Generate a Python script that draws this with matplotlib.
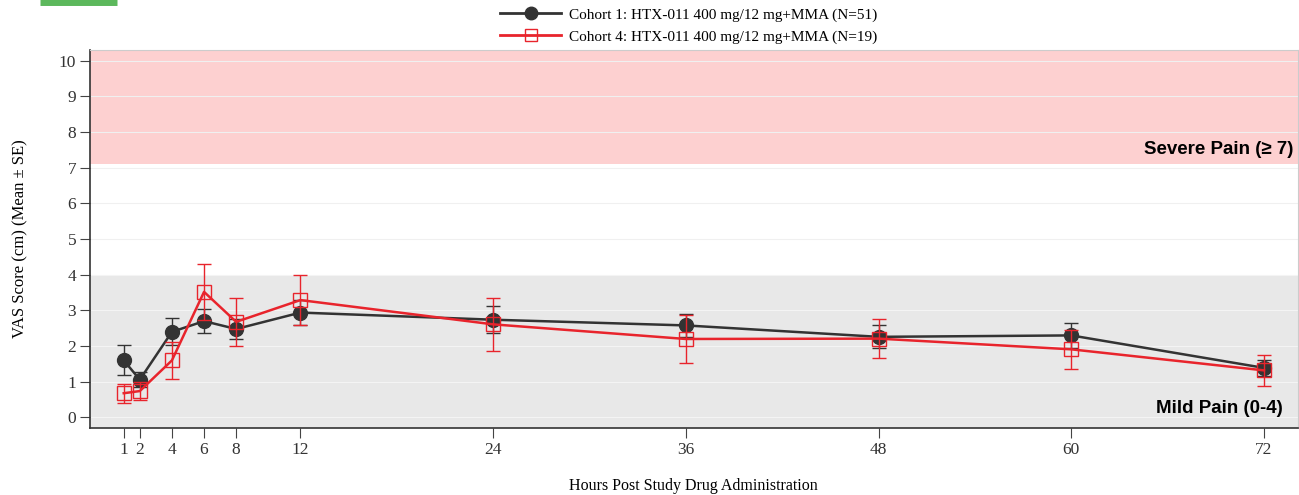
import matplotlib
matplotlib.use("Agg")
import matplotlib.pyplot as plt
from matplotlib.lines import Line2D

hours = [1, 2, 4, 6, 8, 12, 24, 36, 48, 60, 72]
cohort1_mean = [1.60, 1.06, 2.40, 2.70, 2.48, 2.94, 2.74, 2.58, 2.26, 2.30, 1.39]
cohort1_se = [0.42, 0.21, 0.38, 0.34, 0.28, 0.36, 0.38, 0.33, 0.32, 0.35, 0.23]
cohort4_mean = [0.68, 0.74, 1.60, 3.52, 2.68, 3.29, 2.61, 2.20, 2.21, 1.91, 1.32]
cohort4_se = [0.27, 0.26, 0.52, 0.78, 0.68, 0.71, 0.75, 0.66, 0.54, 0.54, 0.44]
labels = ["Cohort 1: HTX-011 400 mg/12 mg+MMA (N=51)",
          "Cohort 4: HTX-011 400 mg/12 mg+MMA (N=19)"]

serif = "Liberation Serif"

fig = plt.figure(figsize=(12.99, 4.95), dpi=100)
ax = fig.add_axes([0.0693, 0.135, 0.9297, 0.764])

ax.set_xlim(-1.1, 74.1)
ax.set_ylim(-0.3, 10.3)

# pain bands
ax.axhspan(7.1, 10.3, color="#fdd0d0", zorder=0, lw=0)
ax.axhspan(-0.3, 4.0, color="#e8e8e8", zorder=0, lw=0)
for y in range(0, 11):
    ax.axhline(y, color="#f0f0f0" if y > 4 else "#f4f4f4", lw=0.8, zorder=0.5)

ax.errorbar(hours, cohort1_mean, yerr=cohort1_se, color="#333333", lw=1.8,
            marker="o", ms=10, mfc="#333333", mec="#333333",
            capsize=5, elinewidth=1.0, capthick=1.0, zorder=3)
ax.errorbar(hours, cohort4_mean, yerr=cohort4_se, color="#e8242c", lw=1.8,
            marker="s", ms=10, mfc="none", mec="#e8242c", mew=1.0,
            capsize=5, elinewidth=1.0, capthick=1.0, zorder=4)

ax.text(73.8, 7.5, "Severe Pain (\u2265 7)", ha="right", va="center",
        fontsize=13.5, fontweight="bold", family="Liberation Sans")
ax.text(73.2, 0.25, "Mild Pain (0-4)", ha="right", va="center",
        fontsize=13.5, fontweight="bold", family="Liberation Sans")

ax.set_xticks(hours)
ax.set_xticklabels([str(h) for h in hours], family=serif, fontsize=12.5,
                   color="#333333")
ax.set_yticks(range(0, 11))
ax.set_yticklabels([str(v) for v in range(0, 11)], family=serif, fontsize=12.5,
                   color="#333333")
ax.tick_params(direction="out", length=7, width=0.8, color="#444444", pad=3)

for side in ["left", "bottom"]:
    ax.spines[side].set_color("#333333")
    ax.spines[side].set_linewidth(1.2)
for side in ["top", "right"]:
    ax.spines[side].set_color("#cccccc")
    ax.spines[side].set_linewidth(0.8)

ax.set_xlabel("Hours Post Study Drug Administration", family=serif,
              fontsize=11.5, labelpad=14)
ax.set_ylabel("VAS Score (cm) (Mean \u00b1 SE)", family=serif, fontsize=12,
              labelpad=22)

handles = [
    Line2D([], [], color="#333333", lw=2, marker="o", ms=9, mfc="#333333"),
    Line2D([], [], color="#e8242c", lw=2, marker="s", ms=9, mfc="none"),
]
fig.legend(handles, labels, loc="upper center", bbox_to_anchor=(0.53, 1.0),
           frameon=False, prop={"family": serif, "size": 11},
           handlelength=4, handletextpad=0.5, labelspacing=0.55,
           borderaxespad=0.1)

# green bar at top left
fig.add_artist(Line2D([0.031, 0.090], [0.995, 0.995], color="#5cb85c", lw=5,
                      solid_capstyle="butt", transform=fig.transFigure))

fig.savefig("out.png", dpi=100)
